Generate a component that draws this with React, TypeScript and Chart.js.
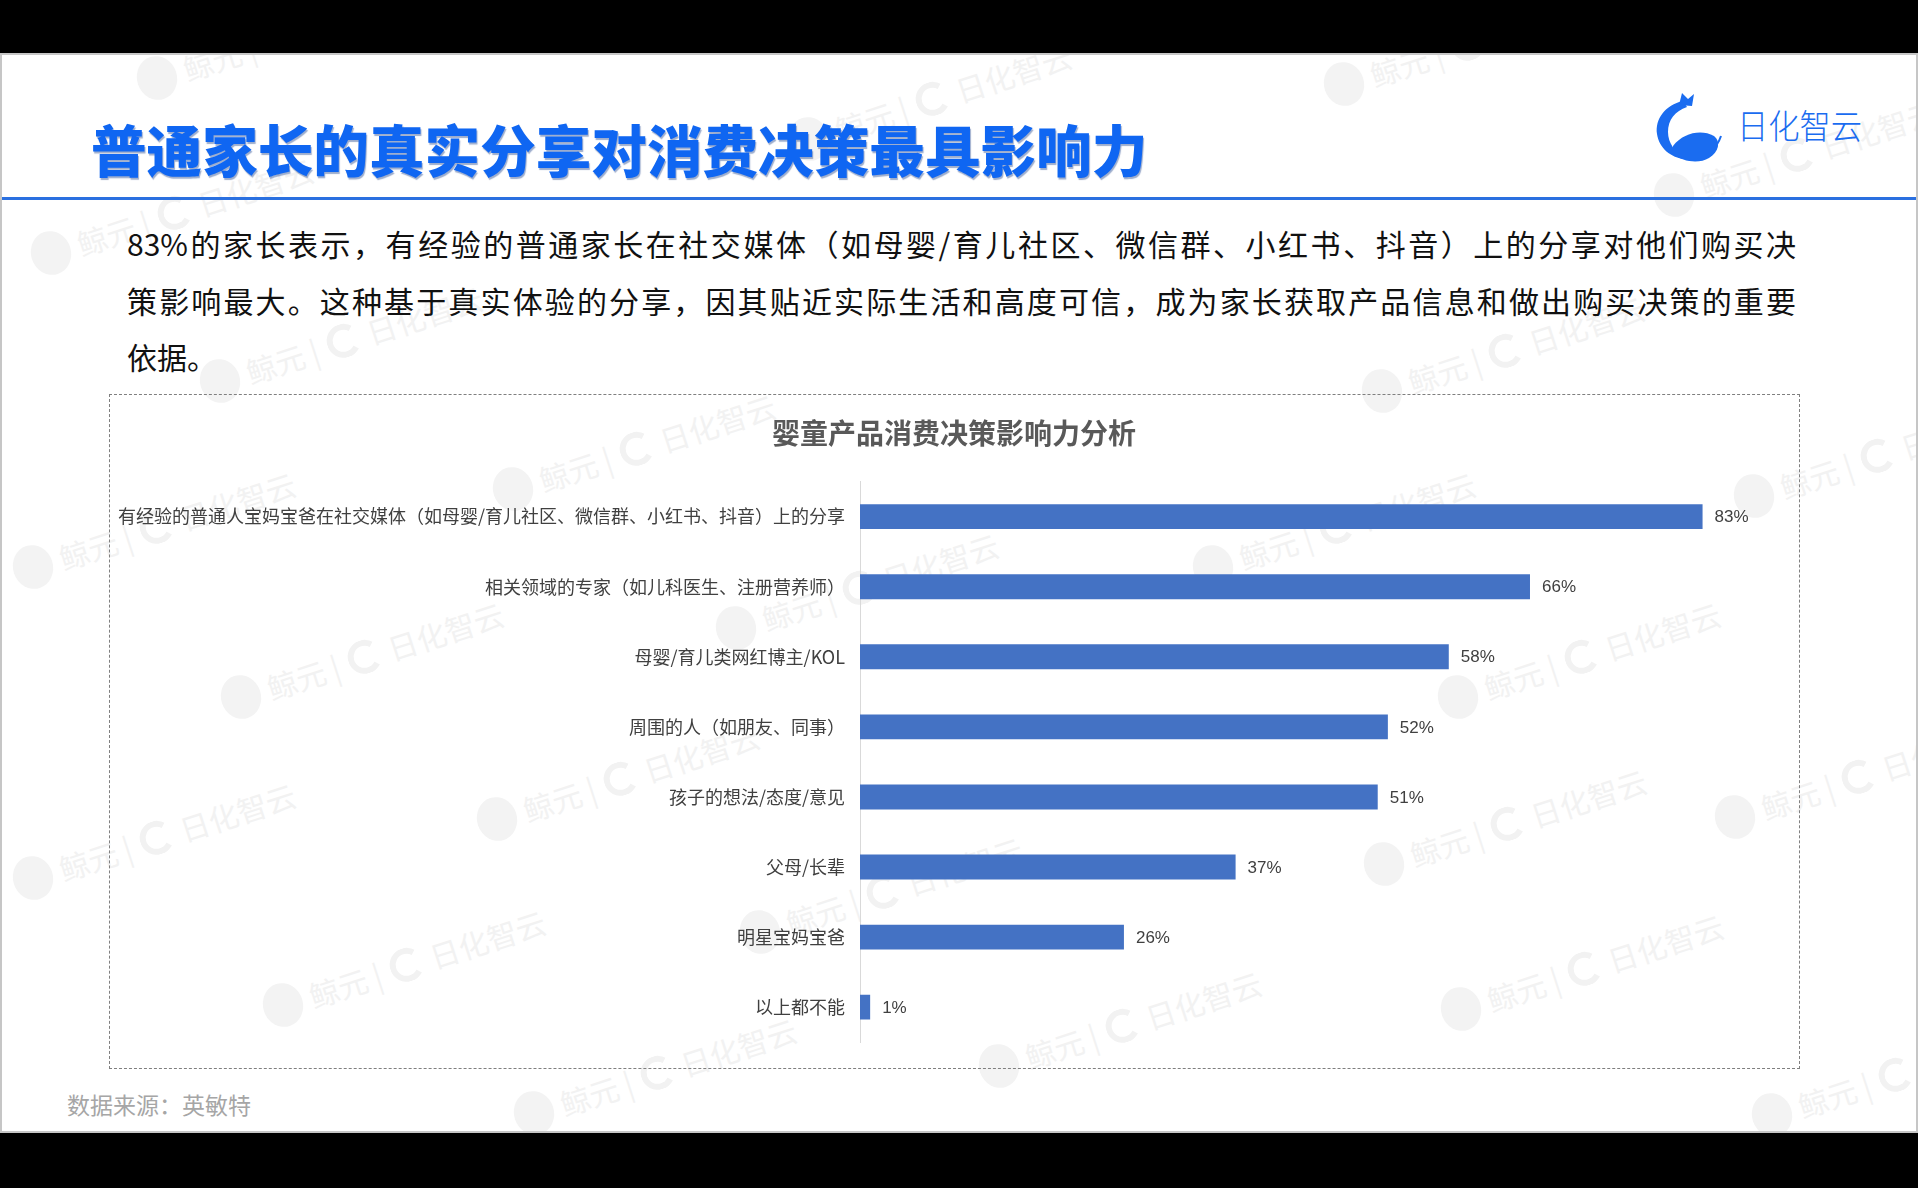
import React, { useEffect, useRef } from "react";
import { Chart, registerables } from "chart.js";

Chart.register(...registerables);

const categories = [
  "有经验的普通人宝妈宝爸在社交媒体（如母婴/育儿社区、微信群、小红书、抖音）上的分享",
  "相关领域的专家（如儿科医生、注册营养师）",
  "母婴/育儿类网红博主/KOL",
  "周围的人（如朋友、同事）",
  "孩子的想法/态度/意见",
  "父母/长辈",
  "明星宝妈宝爸",
  "以上都不能",
];
const values = [83, 66, 58, 52, 51, 37, 26, 1];
const chartTitle = "婴童产品消费决策影响力分析";
const pageTitle = "普通家长的真实分享对消费决策最具影响力";
const paragraphLines = [
  "83%的家长表示，有经验的普通家长在社交媒体（如母婴/育儿社区、微信群、小红书、抖音）上的分享对他们购买决",
  "策影响最大。这种基于真实体验的分享，因其贴近实际生活和高度可信，成为家长获取产品信息和做出购买决策的重要",
  "依据。",
];
const sourceNote = "数据来源：英敏特";
const brandName = "日化智云";
const watermarkText = "鲸元 |";

const watermarkSpots: [number, number][] = [
  [155, 76], [1342, 82], [807, 137], [1672, 193], [49, 251], [218, 379],
  [1380, 389], [511, 487], [1752, 494], [31, 565], [1211, 565], [734, 626],
  [239, 695], [1456, 695], [495, 817], [1733, 815], [31, 876], [1382, 862],
  [758, 930], [281, 1003], [1459, 1007], [997, 1064], [532, 1111], [1770, 1113],
];

const CJK = '"Noto Sans CJK SC", "Noto Sans", sans-serif';
const SLIDE_TOP = 53;

function Watermark({ x, y }: { x: number; y: number }) {
  return (
    <div
      style={{
        position: "absolute",
        left: x - 20,
        top: y - SLIDE_TOP - 22,
        transform: "rotate(-18deg)",
        transformOrigin: "20px 22px",
        display: "flex",
        alignItems: "center",
        whiteSpace: "nowrap",
        color: "#f2f2f2",
        fontFamily: CJK,
        fontSize: 30,
        lineHeight: "44px",
        pointerEvents: "none",
      }}
    >
      <div style={{ width: 40, height: 44, borderRadius: "50%", background: "#f3f3f3", marginRight: 8 }} />
      <span>{watermarkText}</span>
      <span style={{ display: "inline-block", width: 22, height: 22, borderRadius: "50%", border: "6px solid #f2f2f2", borderRightColor: "transparent", margin: "0 8px 0 10px" }} />
      <span>{brandName}</span>
    </div>
  );
}

export default function App() {
  const canvasRef = useRef<HTMLCanvasElement>(null);

  useEffect(() => {
    document.body.style.margin = "0";
    const valueLabels = {
      id: "valueLabels",
      afterDatasetsDraw(chart: any) {
        const ctx = chart.ctx;
        const meta = chart.getDatasetMeta(0);
        ctx.save();
        ctx.font = '17px "Liberation Sans", Arial, sans-serif';
        ctx.fillStyle = "#404040";
        ctx.textAlign = "left";
        ctx.textBaseline = "middle";
        meta.data.forEach((bar: any, i: number) => {
          ctx.fillText(`${values[i]}%`, bar.x + 12, bar.y + 1);
        });
        ctx.restore();
      },
    };
    const chart = new Chart(canvasRef.current as HTMLCanvasElement, {
      type: "bar",
      data: {
        labels: categories,
        datasets: [
          {
            data: values,
            backgroundColor: "#4472C4",
            borderWidth: 0,
            barPercentage: 0.355,
            categoryPercentage: 1,
          },
        ],
      },
      options: {
        indexAxis: "y",
        animation: false,
        responsive: true,
        maintainAspectRatio: false,
        layout: { padding: { left: 0, right: 0, top: 0, bottom: 21 } },
        plugins: {
          legend: { display: false },
          tooltip: { enabled: false },
          title: {
            display: true,
            text: chartTitle,
            color: "#595959",
            font: { family: CJK, size: 28, weight: "bold", lineHeight: 1.2 },
            padding: { top: 23, bottom: 31 },
          },
        },
        scales: {
          x: { display: false, min: 0, max: 92.5 },
          y: {
            grid: { display: false, drawTicks: false },
            border: { display: true, color: "#d9d9d9", width: 1 },
            ticks: {
              color: "#404040",
              font: { family: CJK, size: 18 },
              padding: 15,
              autoSkip: false,
            },
            afterFit: (scale: any) => {
              scale.width = 751;
            },
          },
        },
      } as any,
      plugins: [valueLabels],
    });
    return () => chart.destroy();
  }, []);

  return (
    <div style={{ position: "relative", width: 1918, height: 1188, background: "#000", overflow: "hidden", fontFamily: CJK }}>
      <div
        style={{
          position: "absolute",
          left: 0,
          top: SLIDE_TOP,
          width: 1918,
          height: 1080,
          background: "#fff",
          border: "2px solid #c6c6c6",
          boxSizing: "border-box",
          overflow: "hidden",
        }}
      >
        {watermarkSpots.map(([x, y], i) => (
          <Watermark key={i} x={x} y={y} />
        ))}
      </div>
      <div
        style={{
          position: "absolute",
          left: 91,
          top: 121,
          fontSize: 55.6,
          lineHeight: "55px",
          fontWeight: 900,
          color: "#0f66f2",
          whiteSpace: "nowrap",
          textShadow: "1px 2px 1px rgba(10,50,130,0.4)",
        }}
      >
        {pageTitle}
      </div>
      <div style={{ position: "absolute", left: 2, top: 197, width: 1914, height: 3, background: "#2a70e0" }} />
      <svg style={{ position: "absolute", left: 1653, top: 92 }} width={70} height={78} viewBox="0 0 70 78">
        <path d="M6,40 A32,32 0 0 0 68,44" fill="none" stroke="#1a6cf0" strokeWidth={2} />
        <path d="M30,9 C12,13 2,27 4,42 C6,56 18,66 32,67 C22,60 15,51 15,40 C15,28 22,19 34,15 Z" fill="#1a6cf0" />
        <path d="M20,54 C30,41 48,37 61,44 C68,49 66,60 56,66 C46,72 30,70 20,62 Z" fill="#1a6cf0" />
        <path d="M26,13 L29,1 L35,7 L41,2 L39,14 Z" fill="#1a6cf0" />
      </svg>
      <div
        style={{
          position: "absolute",
          left: 1737,
          top: 108,
          fontSize: 34,
          lineHeight: "34px",
          fontWeight: 300,
          color: "#1a6cf0",
          whiteSpace: "nowrap",
          transform: "scaleX(0.92)",
          transformOrigin: "left center",
        }}
      >
        {brandName}
      </div>
      {paragraphLines.map((line, i) => (
        <div
          key={i}
          style={{
            position: "absolute",
            left: 127,
            top: 228 + i * 56.5,
            width: 1669,
            fontSize: 30,
            lineHeight: "30px",
            color: "#111",
            whiteSpace: "nowrap",
            textAlign: i < 2 ? "justify" : "left",
            textAlignLast: i < 2 ? "justify" : "left",
          } as any}
        >
          {line}
        </div>
      ))}
      <div
        style={{
          position: "absolute",
          left: 109,
          top: 394,
          width: 1691,
          height: 675,
          border: "1px dashed #7f7f7f",
          boxSizing: "border-box",
        }}
      />
      <div style={{ position: "absolute", left: 109, top: 394, width: 1690, height: 674 }}>
        <canvas ref={canvasRef} />
      </div>
      <div
        style={{
          position: "absolute",
          left: 67,
          top: 1093,
          fontSize: 23,
          lineHeight: "23px",
          color: "#a6a6a6",
          whiteSpace: "nowrap",
        }}
      >
        {sourceNote}
      </div>
    </div>
  );
}
